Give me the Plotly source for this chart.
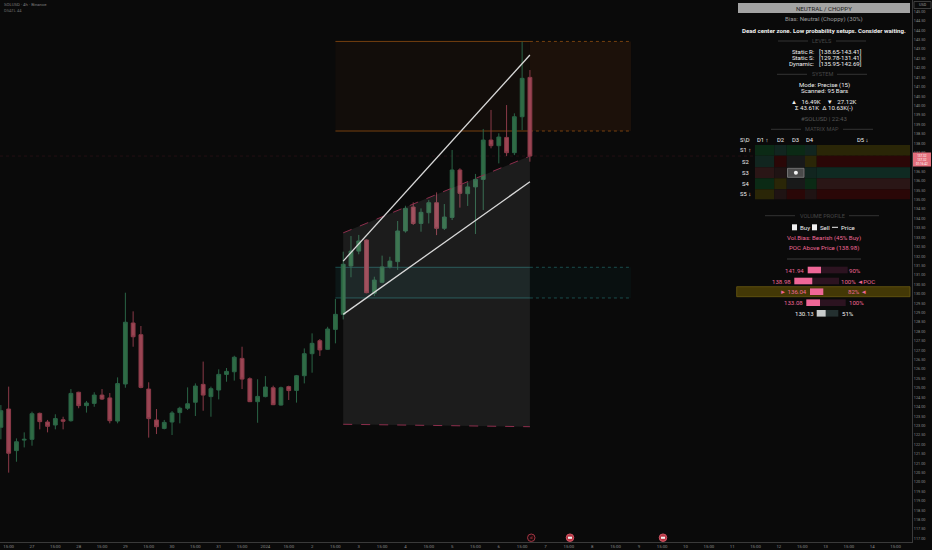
import plotly.graph_objects as go

# ---------------- data (4h bars, index 0 = 27 Dec 03:00) ----------------
bar_index = list(range(-4, 65))
open_ = [122.91, 123.88, 121.67, 122.23, 122.27, 123.65, 123.19, 123.03, 123.31, 123.26,
         124.77, 124.06, 124.18, 124.62, 124.47, 123.24, 125.21, 128.45, 127.83, 124.94,
         123.30, 122.85, 123.19, 123.69, 123.92, 124.24, 125.19, 124.54, 124.89, 125.72,
         125.86, 126.57, 125.49, 124.27, 124.54, 125.01, 124.09, 125.07, 124.87, 125.65,
         126.82, 127.51, 127.05, 128.11, 128.91, 131.48, 132.27, 132.86, 130.03, 130.61,
         131.43, 131.71, 133.34, 134.61, 133.74, 134.31, 134.84, 133.48, 134.06, 136.58,
         135.32, 135.68, 136.08, 138.17, 137.87, 138.31, 137.50, 139.41, 141.50]
high = [124.09, 125.07, 122.32, 122.64, 123.74, 123.69, 123.30, 123.60, 123.47, 124.94,
        124.80, 124.31, 124.77, 124.94, 124.73, 125.56, 130.06, 129.07, 128.29, 125.30,
        123.88, 123.30, 123.77, 124.00, 125.03, 125.24, 126.40, 125.07, 125.99, 126.06,
        126.71, 127.19, 125.56, 125.46, 125.63, 125.12, 125.07, 125.12, 125.69, 127.10,
        127.90, 127.60, 128.25, 129.73, 132.24, 133.07, 133.13, 132.89, 130.91, 132.03,
        131.97, 133.87, 134.68, 134.86, 134.54, 134.98, 135.39, 134.77, 137.64, 136.67,
        135.92, 136.37, 138.76, 139.77, 138.53, 140.03, 139.59, 143.40, 141.89]
low = [122.27, 120.50, 121.08, 121.84, 121.93, 122.80, 122.64, 122.80, 122.80, 123.21,
       123.92, 123.69, 124.00, 124.36, 123.12, 123.12, 125.01, 127.19, 124.98, 122.36,
       122.55, 122.80, 122.50, 123.12, 123.83, 123.51, 123.79, 123.47, 124.39, 125.33,
       125.39, 124.94, 124.25, 123.15, 124.50, 124.09, 124.06, 124.36, 124.22, 125.24,
       125.81, 126.70, 127.02, 127.37, 128.64, 130.88, 132.10, 130.03, 129.88, 130.56,
       131.35, 131.27, 133.25, 133.66, 133.30, 133.74, 133.12, 133.39, 133.92, 134.58,
       134.67, 133.18, 134.45, 137.73, 136.93, 137.32, 137.37, 138.70, 137.02]
close = [123.79, 121.53, 122.14, 122.27, 123.63, 123.21, 122.96, 123.37, 123.23, 124.71,
         124.06, 124.20, 124.62, 124.41, 123.26, 125.23, 128.49, 127.72, 125.03, 123.37,
         122.94, 123.17, 123.67, 123.92, 124.16, 125.10, 124.62, 124.96, 125.72, 125.88,
         126.63, 125.47, 124.27, 124.55, 125.05, 124.11, 125.01, 124.86, 125.65, 126.82,
         127.37, 127.02, 128.13, 128.91, 131.57, 132.27, 132.81, 130.06, 130.73, 131.43,
         131.74, 133.34, 134.54, 133.74, 134.33, 134.84, 133.48, 134.08, 136.58, 135.34,
         135.68, 136.08, 138.17, 137.87, 138.33, 137.50, 139.41, 141.45, 137.32]

day_labels = ["27", "28", "29", "30", "31", "2024", "2", "3", "4", "5", "6", "7",
              "8", "9", "10", "11", "12", "13", "14"]
price_ticks = [117 + 0.5 * k for k in range(57)]

res_zone = [138.65, 143.41]
sup_zone = [129.78, 131.41]
dyn_upper = [131.74, 142.69]
dyn_lower = [128.91, 135.95]
proj_top = [133.24, 137.32]
proj_bottom = [123.07, 122.94]
last_price = 137.32
channel_bars = [40, 64]
zone_bars = [39, 64, 77]

levels_text = [("Static R:", "[138.65-143.41]"), ("Static S:", "[129.78-131.41]"),
               ("Dynamic:", "[135.95-142.69]")]
vp_levels = ["141.94", "138.98", "136.04", "133.08", "130.13"]
vp_pct = ["90%", "100%", "82%", "100%", "51%"]
vp_suffix = ["", " ◄POC", " ◄", "", ""]

# ---------------- layout helpers (pixel -> paper) ----------------
W, H = 932, 550
PW, PH = 912, 542
def px(x): return x / PW
def py(y): return 1 - y / PH

BG = "#0a0a0a"
FONT = "Roboto"
FS = 6.1
shapes, ann = [], []

def rect(x0, y0, x1, y1, fill, line="rgba(0,0,0,0)", lw=0):
    shapes.append(dict(type="rect", xref="paper", yref="paper", x0=px(x0), x1=px(x1),
                       y0=py(y1), y1=py(y0), fillcolor=fill, line=dict(color=line, width=lw),
                       layer="above"))

def hline_px(x0, x1, y, color, lw=1, dash="solid"):
    shapes.append(dict(type="line", xref="paper", yref="paper", x0=px(x0), x1=px(x1),
                       y0=py(y), y1=py(y), line=dict(color=color, width=lw, dash=dash),
                       layer="above"))

def txt(x, y, s, color="#e8e8e8", size=FS, anchor="center", bold=False):
    ann.append(dict(xref="paper", yref="paper", x=px(x), y=py(y), text=(f"<b>{s}</b>" if bold else s),
                    showarrow=False, xanchor=anchor, yanchor="middle", borderpad=0,
                    font=dict(family=FONT, size=size, color=color)))

def section(y, title, half):
    txt(822, y, title, "#464646", 5.6)
    hline_px(822 - half - 30, 822 - half, y, "#333333", 1)
    hline_px(822 + half, 822 + half + 30, y, "#333333", 1)

# ---------------- figure ----------------
fig = go.Figure()

# projection shading
fig.add_trace(go.Scatter(x=[channel_bars[0], channel_bars[1], channel_bars[1], channel_bars[0]],
                         y=[proj_top[0], proj_top[1], proj_bottom[1], proj_bottom[0]],
                         fill="toself", fillcolor="rgba(255,255,255,0.075)",
                         line=dict(width=0), mode="lines", hoverinfo="skip"))
for seg in (proj_top, proj_bottom):
    fig.add_trace(go.Scatter(x=channel_bars, y=seg, mode="lines",
                             line=dict(color="#8c2e4c", width=1, dash="dash"), hoverinfo="skip"))

fig.add_trace(go.Candlestick(x=bar_index, open=open_, high=high, low=low, close=close,
                             increasing=dict(line=dict(color="#2a6446", width=1), fillcolor="#2f6b44"),
                             decreasing=dict(line=dict(color="#8a3a48", width=1), fillcolor="#9a4553"),
                             whiskerwidth=0, hoverinfo="skip"))

for seg in (dyn_upper, dyn_lower):
    fig.add_trace(go.Scatter(x=channel_bars, y=seg, mode="lines",
                             line=dict(color="#d9d9d9", width=1.3), hoverinfo="skip"))

# zones
def zone(lo, hi, fill_l, fill_r, border):
    a, m, b = zone_bars
    shapes.append(dict(type="rect", xref="x", yref="y", x0=a, x1=m, y0=lo, y1=hi,
                       fillcolor=fill_l, line=dict(width=0), layer="below"))
    shapes.append(dict(type="rect", xref="x", yref="y", x0=m, x1=b, y0=lo, y1=hi,
                       fillcolor=fill_r, line=dict(width=0), layer="below"))
    for v in (lo, hi):
        shapes.append(dict(type="line", xref="x", yref="y", x0=a, x1=m, y0=v, y1=v,
                           line=dict(color=border, width=1), layer="below"))
        shapes.append(dict(type="line", xref="x", yref="y", x0=m, x1=b, y0=v, y1=v,
                           line=dict(color=border, width=1, dash="dot"), layer="below"))

zone(res_zone[0], res_zone[1], "rgba(255,110,20,0.035)", "rgba(255,110,20,0.075)", "rgba(200,105,20,0.55)")
zone(sup_zone[0], sup_zone[1], "rgba(40,150,150,0.10)", "rgba(0,120,120,0.06)", "rgba(40,130,130,0.55)")

# last price dotted line
shapes.append(dict(type="line", xref="paper", yref="y", x0=0, x1=1, y0=last_price, y1=last_price,
                   line=dict(color="rgba(150,40,60,0.18)", width=1, dash="dot"), layer="below"))

# ---------------- top-left symbol text ----------------
txt(3, 5, "SOLUSD · 4h · Binance", "#7d7d7d", 4.3, "left")
txt(3, 10.5, "DSATL 44", "#6a6a6a", 4.0, "left")

# ---------------- info panel ----------------
rect(738, 3, 910, 13, "#a3a3a3")
txt(824, 8, "NEUTRAL / CHOPPY", "#1e1e1e")
txt(824, 19.3, "Bias: Neutral (Choppy) (30%)", "#9a9a9a")
txt(824, 30, "Dead center zone. Low probability setups. Consider waiting.", "#f2f2f2", bold=True)
section(41, "LEVELS", 14)
for k, (lab, val) in enumerate(levels_text):
    yy = [51.7, 57.4, 63.2][k]
    txt(816, yy, lab, "#f0f0f0", FS, "right")
    txt(818, yy, val, "#f0f0f0", FS, "left")
section(74.3, "SYSTEM", 15)
txt(824, 85, "Mode: Precise (15)", "#f0f0f0")
txt(824, 90.7, "Scanned: 95 Bars", "#f0f0f0")
txt(824, 101.7, "▲   16.49K    ▼   27.12K", "#f0f0f0")
txt(824, 107.7, "Σ 43.61K  Δ 10.63K(-)", "#f0f0f0")
txt(824, 118.3, "#SOLUSD | 22:43", "#555555")
section(129.3, "MATRIX MAP", 21)

# matrix
col_edges = [755, 774.3, 786.7, 805, 816.7, 910]
row_edges = [145, 155.7, 167.3, 178.3, 189.3, 199.3]
G, T, Y, R, K, B, B2, T2 = "#0b2a15", "#11251f", "#2a2607", "#2a0707", "#181919", "#2a1616", "#1f1313", "#0f2a22"
matrix_colors = [[G, T, G, T, Y],
                 [T, R, K, Y, R],
                 [B, B2, K, T, T2],
                 [G, Y, K, G, B],
                 [Y, B2, R, B2, R]]
for r in range(5):
    for c in range(5):
        rect(col_edges[c], row_edges[r], col_edges[c + 1], row_edges[r + 1], matrix_colors[r][c])
rect(787.5, 168.3, 804, 177.3, "#4a4a4a", "#808080", 0.8)
shapes.append(dict(type="circle", xref="paper", yref="paper", x0=px(793.9), x1=px(797.9),
                   y0=py(174.7), y1=py(170.7), fillcolor="#f2f2f2", line=dict(width=0), layer="above"))
for lab, xx in [("S\\D", 745), ("D1 ↑", 763), ("D2", 780.7), ("D3", 795.3), ("D4", 810.3), ("D5 ↓", 863)]:
    txt(xx, 140, lab, "#f0f0f0", 5.8)
for k, lab in enumerate(["S1 ↑", "S2", "S3", "S4", "S5 ↓"]):
    txt(745, (row_edges[k] + row_edges[k + 1]) / 2, lab, "#f0f0f0", 5.8)

# volume profile
section(215.7, "VOLUME PROFILE", 27)
rect(792, 224.3, 797, 230.3, "#f0f0f0")
txt(799, 227.3, "Buy", "#f0f0f0", FS, "left")
rect(812, 224.3, 817, 230.3, "#f0f0f0")
txt(819, 227.3, "Sell", "#f0f0f0", FS, "left")
hline_px(832, 838, 227.3, "#f0f0f0", 1)
txt(840, 227.3, "Price", "#f0f0f0", FS, "left")
PINK = "#ef6797"
txt(824, 238.3, "Vol.Bias: Bearish (45% Buy)", PINK)
txt(824, 248.3, "POC Above Price (138.98)", PINK)
hline_px(787, 861, 259, "#3a3a3a", 1)

rect(736.7, 286.7, 910, 296.7, "#433806", "#6a5a12", 0.8)
vp_rows = [  # label_x_right, bar_x, bar_w, dark_w, pct_x, y
    (805, 807.7, 13.3, 26.7, 848.3, 270),
    (792.3, 794.3, 18.0, 26.7, 840.3, 281),
    (807.7, 810.0, 13.3, 0, 846.7, 291.7),
    (804.3, 806.3, 13.7, 25.7, 847.7, 302.7),
    (815, 816.7, 9.0, 12.6, 841, 313.3),
]
for k, (lx, bx, bw, dw, pxp, yy) in enumerate(vp_rows):
    col = PINK if k < 4 else "#f0f0f0"
    main = PINK if k < 4 else "#c9cdcd"
    dark = "#2c1320" if k < 4 else "#243030"
    if dw:
        rect(bx + bw, yy - 3.3, bx + bw + dw, yy + 3.3, dark)
    rect(bx, yy - 3.3, bx + bw, yy + 3.3, main)
    lab = ("► " if k == 2 else "") + vp_levels[k]
    txt(lx, yy, lab, col, FS, "right")
    txt(pxp, yy, vp_pct[k] + vp_suffix[k], col, FS, "left")

# right axis extras
rect(914, 1.5, 931, 8.5, "#0a0a0a", "#4a4a4a", 0.8)
txt(922.5, 5, "USD", "#9a9a9a", 3.8)
rect(913, 152.5, 931, 166.5, "#e36f7c")
txt(922, 159.5, "137.32<br>137.32<br>01:16:42", "#ffffff", 3.0)

# event icons
shapes.append(dict(type="circle", xref="paper", yref="paper", x0=px(527.5), x1=px(535),
                   y0=py(541.5), y1=py(534), fillcolor="#1a0a0c", line=dict(color="#a23644", width=1), layer="above"))
txt(531.3, 537.8, "d", "#c04050", 4.2)
for cx in (570, 663):
    shapes.append(dict(type="circle", xref="paper", yref="paper", x0=px(cx - 3.8), x1=px(cx + 3.8),
                       y0=py(541.5), y1=py(533.9), fillcolor="#b73441", line=dict(color="#e06070", width=0.8), layer="above"))
    rect(cx - 2, 536.7, cx + 2, 538.8, "#f4f4f4")

# x ticks
tickvals, ticktext = [], []
for d, lab in enumerate(day_labels):
    tickvals += [6 * d - 3, 6 * d]
    ticktext += ["15:00", lab]
tickvals.append(6 * len(day_labels) - 3)
ticktext.append("15:00")

# y tick labels (the one under the last-price box is hidden, as on the reference)
y_ticktext = ["" if abs(v - 137.0) < 1e-9 else f"{v:.2f}" for v in price_ticks]

fig.update_layout(
    width=W, height=H, margin=dict(l=0, r=20, t=0, b=8),
    paper_bgcolor=BG, plot_bgcolor=BG, showlegend=False,
    shapes=shapes, annotations=ann,
    font=dict(family=FONT, color="#8a8a8a"),
    xaxis=dict(range=[-4.113, 113.11], rangeslider=dict(visible=False), showgrid=False,
               zeroline=False, tickvals=tickvals, ticktext=ticktext, ticks="",
               tickfont=dict(size=4.3, color="#8a8a8a", family=FONT),
               showline=True, linecolor="#3a3a3a", linewidth=1),
    yaxis=dict(range=[116.815, 145.611], side="right", showgrid=False, zeroline=False,
               tickvals=price_ticks, ticktext=y_ticktext, ticks="",
               tickfont=dict(size=3.8, color="#8a8a8a", family=FONT),
               showline=True, linecolor="#3a3a3a", linewidth=1),
)
fig.write_html("out.html", config={"displayModeBar": False},
               post_script="document.body.style.margin='0';document.body.style.background='#0a0a0a';document.body.style.overflow='hidden';")
